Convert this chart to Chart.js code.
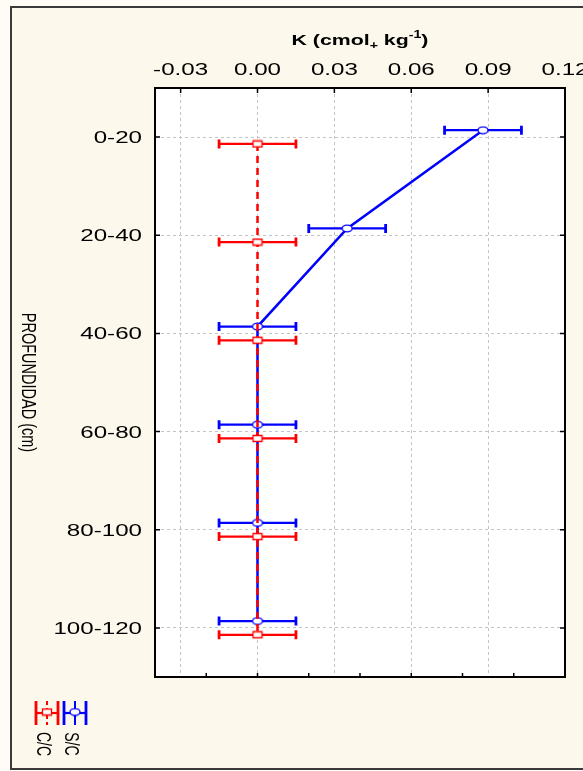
<!DOCTYPE html>
<html>
<head>
<meta charset="utf-8">
<script src="https://cdn.jsdelivr.net/npm/chart.js@4"></script>
<style>
    body { margin: 0; background: #fffcf5; }
    #wrap { width: 583px; height: 771px; }
</style>
</head>
<body>
<div id="wrap"><canvas id="kChart" width="583" height="771"></canvas></div>
<script>
// Depth classes (cm) and K values
const depths = ['0-20', '20-40', '40-60', '60-80', '80-100', '100-120'];
const kCC = [0, 0, 0, 0, 0, 0];
const errCC = [0.015, 0.015, 0.015, 0.015, 0.015, 0.015];
const kSC = [0.088, 0.035, 0, 0, 0, 0];
const errSC = [0.015, 0.015, 0.015, 0.015, 0.015, 0.015];
const xTicks = [-0.03, 0, 0.03, 0.06, 0.09, 0.12];
const bottomTicks = [-0.02, 0, 0.02, 0.04, 0.06, 0.08, 0.10];

const RED = '#ff0000';
const BLUE = '#0000ff';
const DODGE = 0.07;
const STRETCH = 1.42;

function makeMarker(kind, color) {
    const c = document.createElement('canvas');
    c.width = 12;
    c.height = 9;
    const g = c.getContext('2d');
    g.fillStyle = '#ffffff';
    g.strokeStyle = color;
    g.lineWidth = 1.3;
    g.beginPath();
    if (kind === 'rect') {
        g.rect(1.5, 1.5, 9, 6);
    } else {
        g.ellipse(6, 4.5, 5, 3.3, 0, 0, Math.PI * 2);
    }
    g.fill();
    g.stroke();
    return c;
}

const redMarker = makeMarker('rect', RED);
const blueMarker = makeMarker('circle', BLUE);

function drawErrorBar(ctx, x1, x2, y, color) {
    ctx.strokeStyle = color;
    ctx.setLineDash([]);
    ctx.lineWidth = 2.2;
    ctx.beginPath();
    ctx.moveTo(x1, y);
    ctx.lineTo(x2, y);
    ctx.stroke();
    ctx.lineWidth = 2.8;
    ctx.beginPath();
    ctx.moveTo(x1, y - 4.5);
    ctx.lineTo(x1, y + 4.5);
    ctx.moveTo(x2, y - 4.5);
    ctx.lineTo(x2, y + 4.5);
    ctx.stroke();
}

// the original figure is stretched sideways, so text is drawn wider than tall
function stretchedText(ctx, text, x, y, font, rotate, align, baseline) {
    ctx.save();
    ctx.font = font;
    ctx.fillStyle = '#000';
    ctx.textAlign = align || 'center';
    ctx.textBaseline = baseline || 'middle';
    ctx.translate(x, y);
    if (rotate) {
        ctx.rotate(Math.PI / 2);
        ctx.scale(1, STRETCH);
    } else {
        ctx.scale(STRETCH, 1);
    }
    ctx.fillText(text, 0, 0);
    ctx.restore();
}

const backgroundPlugin = {
    id: 'background',
    beforeDraw(chart) {
        const ctx = chart.ctx;
        const a = chart.chartArea;
        ctx.save();
        ctx.fillStyle = '#fffcf5';
        ctx.fillRect(0, 0, chart.width, chart.height);
        ctx.fillStyle = '#fdf8ec';
        ctx.fillRect(11, 7, chart.width, 762);
        ctx.strokeStyle = '#3a3a3a';
        ctx.lineWidth = 2;
        ctx.strokeRect(11, 7, chart.width + 10, 762);
        ctx.fillStyle = '#ffffff';
        ctx.fillRect(a.left, a.top, a.right - a.left, a.bottom - a.top);
        ctx.restore();
    }
};

const errorBarPlugin = {
    id: 'errorBars',
    beforeDatasetsDraw(chart) {
        const ctx = chart.ctx;
        const xs = chart.scales.x;
        const ys = chart.scales.y;
        ctx.save();
        chart.data.datasets.forEach(ds => {
            ds.data.forEach((p, i) => {
                const e = ds.errors[i];
                drawErrorBar(ctx, xs.getPixelForValue(p.x - e), xs.getPixelForValue(p.x + e),
                    ys.getPixelForValue(p.y), ds.borderColor);
            });
        });
        ctx.restore();
    }
};

const framePlugin = {
    id: 'frame',
    afterDraw(chart) {
        const ctx = chart.ctx;
        const a = chart.chartArea;
        const xs = chart.scales.x;
        const ys = chart.scales.y;
        ctx.save();
        ctx.setLineDash([]);
        ctx.strokeStyle = '#000';
        ctx.lineWidth = 2;
        ctx.strokeRect(a.left, a.top, a.right - a.left, a.bottom - a.top);
        ctx.lineWidth = 1.5;
        ctx.beginPath();
        xTicks.forEach(v => {
            const x = xs.getPixelForValue(v);
            ctx.moveTo(x, a.top);
            ctx.lineTo(x, a.top + 5);
        });
        bottomTicks.forEach(v => {
            const x = xs.getPixelForValue(v);
            ctx.moveTo(x, a.bottom);
            ctx.lineTo(x, a.bottom - 4);
        });
        depths.forEach((d, i) => {
            const y = ys.getPixelForValue(i);
            ctx.moveTo(a.left, y);
            ctx.lineTo(a.left + 5, y);
            ctx.moveTo(a.right, y);
            ctx.lineTo(a.right - 5, y);
        });
        ctx.stroke();
        ctx.restore();

        // tick labels from the scales' own ticks
        const tickFont = '17px "Liberation Sans", Arial, sans-serif';
        xs.ticks.forEach(t => {
            stretchedText(ctx, t.value.toFixed(2), xs.getPixelForValue(t.value), 75,
                tickFont, false, 'center', 'alphabetic');
        });
        ys.ticks.forEach(t => {
            stretchedText(ctx, depths[t.value], 142, ys.getPixelForValue(t.value) + 6,
                tickFont, false, 'right', 'alphabetic');
        });

        // axis title with sub/superscript
        ctx.save();
        ctx.fillStyle = '#000';
        ctx.textBaseline = 'alphabetic';
        const parts = [
            { t: 'K (cmol', f: 'bold 15px "Liberation Sans", Arial', dy: 0 },
            { t: '+', f: 'bold 10px "Liberation Sans", Arial', dy: 4 },
            { t: ' kg', f: 'bold 15px "Liberation Sans", Arial', dy: 0 },
            { t: '-1', f: 'bold 10px "Liberation Sans", Arial', dy: -7 },
            { t: ')', f: 'bold 15px "Liberation Sans", Arial', dy: 0 }
        ];
        let w = 0;
        parts.forEach(p => { ctx.font = p.f; p.w = ctx.measureText(p.t).width; w += p.w; });
        const cx = (a.left + a.right) / 2;
        ctx.translate(cx - w * STRETCH / 2, 45);
        ctx.scale(STRETCH, 1);
        let x = 0;
        parts.forEach(p => {
            ctx.font = p.f;
            ctx.fillText(p.t, x, p.dy);
            x += p.w;
        });
        ctx.restore();

        stretchedText(ctx, 'PROFUNDIDAD (cm)', 28, (a.top + a.bottom) / 2,
            '14.5px "Liberation Sans", Arial', true);

        // legend
        ctx.save();
        const items = [
            { c: RED, cx: 47, marker: redMarker, dash: [4, 3], label: 'C/C', lx: 42 },
            { c: BLUE, cx: 75, marker: blueMarker, dash: [], label: 'S/C', lx: 70 }
        ];
        items.forEach(it => {
            ctx.strokeStyle = it.c;
            ctx.lineWidth = 2;
            ctx.setLineDash(it.dash);
            ctx.beginPath();
            ctx.moveTo(it.cx, 701);
            ctx.lineTo(it.cx, 725);
            ctx.stroke();
            ctx.setLineDash([]);
            ctx.lineWidth = 2.8;
            ctx.beginPath();
            ctx.moveTo(it.cx - 11, 701);
            ctx.lineTo(it.cx - 11, 725);
            ctx.moveTo(it.cx + 11, 701);
            ctx.lineTo(it.cx + 11, 725);
            ctx.stroke();
            ctx.lineWidth = 2.2;
            ctx.beginPath();
            ctx.moveTo(it.cx - 11, 713);
            ctx.lineTo(it.cx + 11, 713);
            ctx.stroke();
            ctx.drawImage(it.marker, it.cx - 6, 707.5);
            stretchedText(ctx, it.label, it.lx, 744, '14px "Liberation Sans", Arial', true);
        });
        ctx.restore();
    }
};

const ctx = document.getElementById('kChart').getContext('2d');

const chart = new Chart(ctx, {
    type: 'scatter',
    data: {
        datasets: [
            {
                label: 'C/C',
                data: depths.map((d, i) => ({ x: kCC[i], y: i + DODGE })),
                errors: errCC,
                showLine: true,
                borderColor: RED,
                borderWidth: 2.5,
                borderDash: [7, 5],
                pointStyle: redMarker,
                pointRadius: 5
            },
            {
                label: 'S/C',
                data: depths.map((d, i) => ({ x: kSC[i], y: i - DODGE })),
                errors: errSC,
                showLine: true,
                borderColor: BLUE,
                borderWidth: 2.5,
                pointStyle: blueMarker,
                pointRadius: 5
            }
        ]
    },
    options: {
        responsive: false,
        animation: false,
        layout: { padding: { top: 0, left: 0, right: 18, bottom: 94 } },
        plugins: {
            legend: { display: false },
            tooltip: { enabled: false }
        },
        scales: {
            x: {
                type: 'linear',
                position: 'top',
                min: -0.04,
                max: 0.12,
                afterBuildTicks: scale => { scale.ticks = xTicks.map(v => ({ value: v })); },
                afterFit: scale => {
                    scale.height = 88;
                    scale.paddingLeft = 0;
                    scale.paddingRight = 0;
                },
                ticks: { display: false },
                grid: { color: '#c4c4c4', lineWidth: 1, drawTicks: false },
                border: { display: false, dash: [3, 3] }
            },
            y: {
                type: 'linear',
                reverse: true,
                min: -0.5,
                max: 5.5,
                afterBuildTicks: scale => { scale.ticks = depths.map((d, i) => ({ value: i })); },
                afterFit: scale => { scale.width = 155; },
                ticks: { display: false },
                grid: { color: '#c4c4c4', lineWidth: 1, drawTicks: false },
                border: { display: false, dash: [3, 3] }
            }
        }
    },
    plugins: [backgroundPlugin, errorBarPlugin, framePlugin]
});
</script>
</body>
</html>
